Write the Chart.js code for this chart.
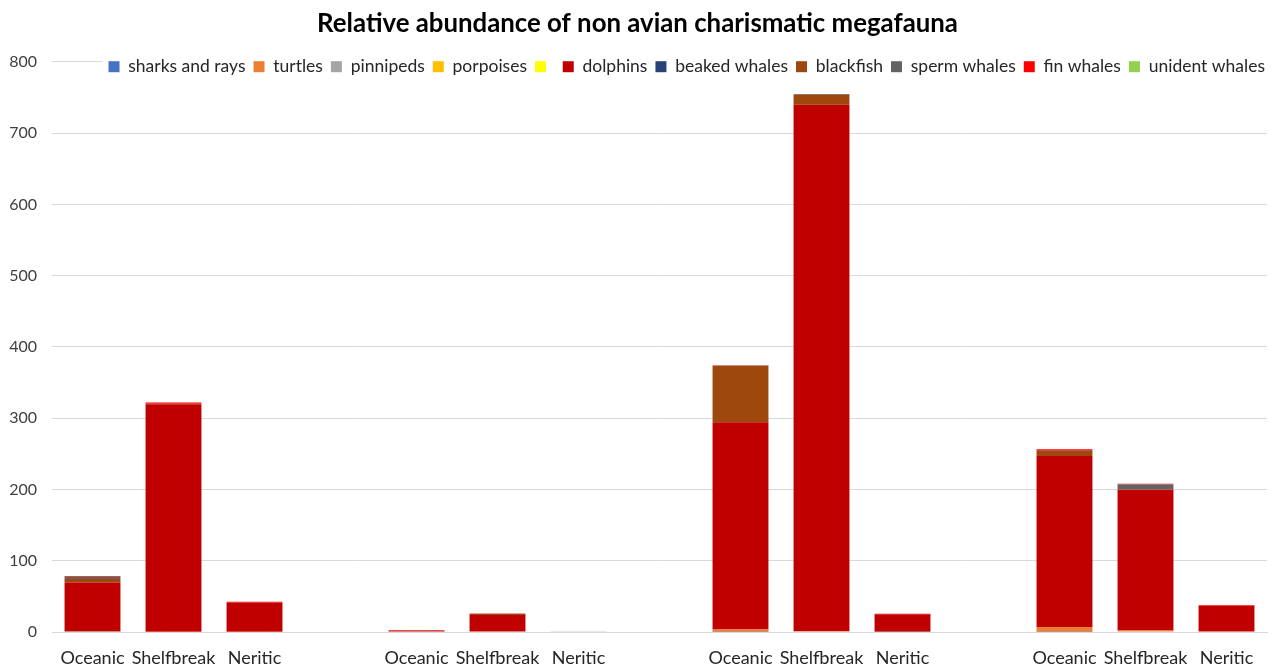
<!DOCTYPE html>
<html>
<head>
<meta charset="utf-8">
<script src="https://cdn.jsdelivr.net/npm/chart.js@4.4.1/dist/chart.umd.min.js"></script>
<style>
  html, body { margin: 0; padding: 0; background: #ffffff; }
  #wrap { width: 1277px; height: 670px; }
</style>
</head>
<body>
<div id="wrap"><canvas id="chart" width="1277" height="670"></canvas></div>
<script>
// categorias (vazias = espaço entre os grupos)
const categorias = ['Oceanic', 'Shelfbreak', 'Neritic', '',
                    'Oceanic', 'Shelfbreak', 'Neritic', '',
                    'Oceanic', 'Shelfbreak', 'Neritic', '',
                    'Oceanic', 'Shelfbreak', 'Neritic'];

const yTicks = [0, 100, 200, 300, 400, 500, 600, 700, 800];

// valores (null = coluna vazia)
const sharksRays   = [0.5, 0,   0,   null, 0.5, 0,   0,   null, 0.5, 0,   0,    null, 0.5, 0,     0];
const turtles      = [1,   0.5, 0.5, null, 0.5, 0,   0,   null, 3,   1,   0,    null, 6.5, 2,     0];
const pinnipeds    = [0,   0,   0,   null, 0,   0,   0.5, null, 0,   0,   0.5,  null, 0,   0,     0];
const porpoises    = [0,   0,   0,   null, 0,   0,   0,   null, 0,   0,   0,    null, 0,   0,     0];
const semNome      = [0,   0,   0,   null, 0,   0,   0,   null, 0,   0,   0,    null, 0,   0,     0];
const dolphins     = [68,  319, 41,  null, 0.5, 24,  0,   null, 291, 739, 24.5, null, 240, 197.5, 36.5];
const beakedWhales = [0,   0,   0,   null, 0,   0,   0,   null, 0,   0,   0,    null, 0,   0,     0];
const blackfish    = [5,   1,   0,   null, 0,   1.5, 0,   null, 79,  14,  0,    null, 7,   0.5,   0];
const spermWhales  = [3,   0,   0,   null, 0,   0,   0,   null, 0.5, 1,   0,    null, 0.5, 7,     0];
const finWhales    = [1,   1.5, 1,   null, 1,   0.5, 0,   null, 0.5, 0,   0.5,  null, 2,   1,     1];
const unidentWhales= [0,   0,   0,   null, 0,   0,   0,   null, 0,   0,   0,    null, 0,   0,     0];

const fonte = "Lato, 'Open Sans', sans-serif";

function serie(label, data, cor) {
    return { label: label, data: data, backgroundColor: cor, borderWidth: 0 };
}

// fundo branco atrás da legenda, que fica por cima da linha do 800 (como no Excel)
// desenha sem o recorte da caixa, porque a caixa é mais baixa que os itens
const deslocLegenda = 6;
const fundoLegenda = {
    id: 'fundoLegenda',
    afterUpdate(chart) {
        const lg = chart.legend;
        if (!lg || lg._embrulhado) return;
        lg.draw = function () {
            if (!lg.options.display) return;
            const c = chart.ctx;
            const hb = lg.legendHitBoxes || [];
            c.save();
            c.translate(deslocLegenda, 0);
            if (hb.length) {
                const x0 = Math.min(...hb.map(h => h.left)) - 6;
                const x1 = chart.chartArea.right + 2 - deslocLegenda;
                const y0 = Math.min(...hb.map(h => h.top)) - 4;
                const y1 = Math.max(...hb.map(h => h.top + h.height)) + 4;
                c.fillStyle = '#ffffff';
                c.fillRect(x0, y0, x1 - x0, y1 - y0);
            }
            lg._draw();
            c.restore();
        };
        lg._embrulhado = true;
    }
};

new Chart(document.getElementById('chart'), {
    type: 'bar',
    data: {
        labels: categorias,
        datasets: [
            serie('sharks and rays', sharksRays, '#4472C4'),
            serie('turtles', turtles, '#ED7D31'),
            serie('pinnipeds', pinnipeds, '#A5A5A5'),
            serie('porpoises', porpoises, '#FFC000'),
            serie('', semNome, '#FFFF00'),
            serie('dolphins', dolphins, '#C00000'),
            serie('beaked whales', beakedWhales, '#264478'),
            serie('blackfish', blackfish, '#9E480E'),
            serie('sperm whales', spermWhales, '#636363'),
            serie('fin whales', finWhales, '#FF0000'),
            serie('unident whales', unidentWhales, '#92D050')
        ]
    },
    options: {
        responsive: false,
        animation: false,
        devicePixelRatio: 1,
        layout: { padding: { left: 8, right: 10, top: 0, bottom: 2 } },
        datasets: { bar: { categoryPercentage: 1, barPercentage: 0.69 } },
        plugins: {
            title: {
                display: true,
                text: 'Relative abundance of non avian charismatic megafauna',
                color: '#000000',
                font: { family: fonte, size: 25.8, weight: 'bold', lineHeight: 1.2 },
                padding: { top: 8, bottom: 11 }
            },
            legend: {
                position: 'top',
                align: 'end',
                maxHeight: 12,
                labels: {
                    color: '#262626',
                    boxWidth: 11,
                    boxHeight: 11,
                    padding: 8,
                    font: { family: fonte, size: 17.5 }
                }
            },
            tooltip: { enabled: false }
        },
        scales: {
            x: {
                stacked: true,
                afterFit: s => { s.height = 36; },
                grid: { display: false, drawTicks: false },
                border: { display: true, color: '#D9D9D9', width: 1 },
                ticks: {
                    autoSkip: false,
                    maxRotation: 0,
                    minRotation: 0,
                    padding: 15,
                    color: '#262626',
                    font: { family: fonte, size: 18 }
                }
            },
            y: {
                stacked: true,
                min: 0,
                max: 800,
                afterFit: s => { s.width = 44; },
                afterBuildTicks: s => { s.ticks = yTicks.map(v => ({ value: v })); },
                grid: { color: '#D9D9D9', drawTicks: false },
                border: { display: false },
                ticks: {
                    padding: 15,
                    color: '#404040',
                    font: { family: fonte, size: 16 }
                }
            }
        }
    },
    plugins: [fundoLegenda]
});
</script>
</body>
</html>
